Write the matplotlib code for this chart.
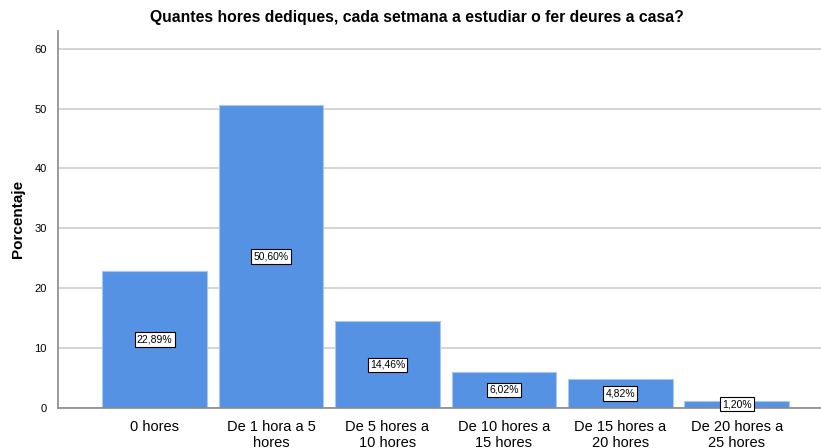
import matplotlib.pyplot as plt

# categories and percentages
categories = ['0 hores', 'De 1 hora a 5\nhores', 'De 5 hores a\n10 hores',
              'De 10 hores a\n15 hores', 'De 15 hores a\n20 hores', 'De 20 hores a\n25 hores']
percent = [22.89, 50.60, 14.46, 6.02, 4.82, 1.20]
labels = ['22,89%', '50,60%', '14,46%', '6,02%', '4,82%', '1,20%']
yticks = [0, 10, 20, 30, 40, 50, 60]

plt.rcParams['font.family'] = ['Liberation Sans', 'DejaVu Sans']

fig = plt.figure(figsize=(8.21, 4.48), dpi=100)
ax = fig.add_axes([0.0706, 0.0893, 0.929, 0.842])

x = range(len(categories))
ax.bar(x, percent, width=0.9, color='#5592e3', edgecolor='#a9c8f0', linewidth=0.8, zorder=2)

for i, v in enumerate(percent):
    ax.text(i, v / 2, labels[i], ha='center', va='center', fontsize=7.5, zorder=3,
            bbox=dict(boxstyle='square,pad=0.2', fc='white', ec='black', lw=0.8))

ax.set_xlim(-0.83, 5.72)
ax.set_ylim(0, 63)
ax.set_yticks(yticks)
ax.set_xticks(list(x))
ax.set_xticklabels(categories, fontsize=10.5, linespacing=1.1)
ax.tick_params(axis='y', length=0, labelsize=8, pad=8)
ax.tick_params(axis='x', length=0, pad=9)
ax.yaxis.grid(True, color='#d4d4d4', linewidth=1.4, zorder=0)
ax.set_axisbelow(True)
for s in ['top', 'right']:
    ax.spines[s].set_visible(False)
for s in ['left', 'bottom']:
    ax.spines[s].set_color('#8a8a8a')
    ax.spines[s].set_linewidth(1.2)

ax.set_ylabel('Porcentaje', fontsize=11, fontweight='bold', labelpad=7)
fig.text(0.508, 0.96, 'Quantes hores dediques, cada setmana a estudiar o fer deures a casa?',
         fontsize=11.3, fontweight='bold', ha='center', va='center')

fig.savefig('out.png', dpi=100)
